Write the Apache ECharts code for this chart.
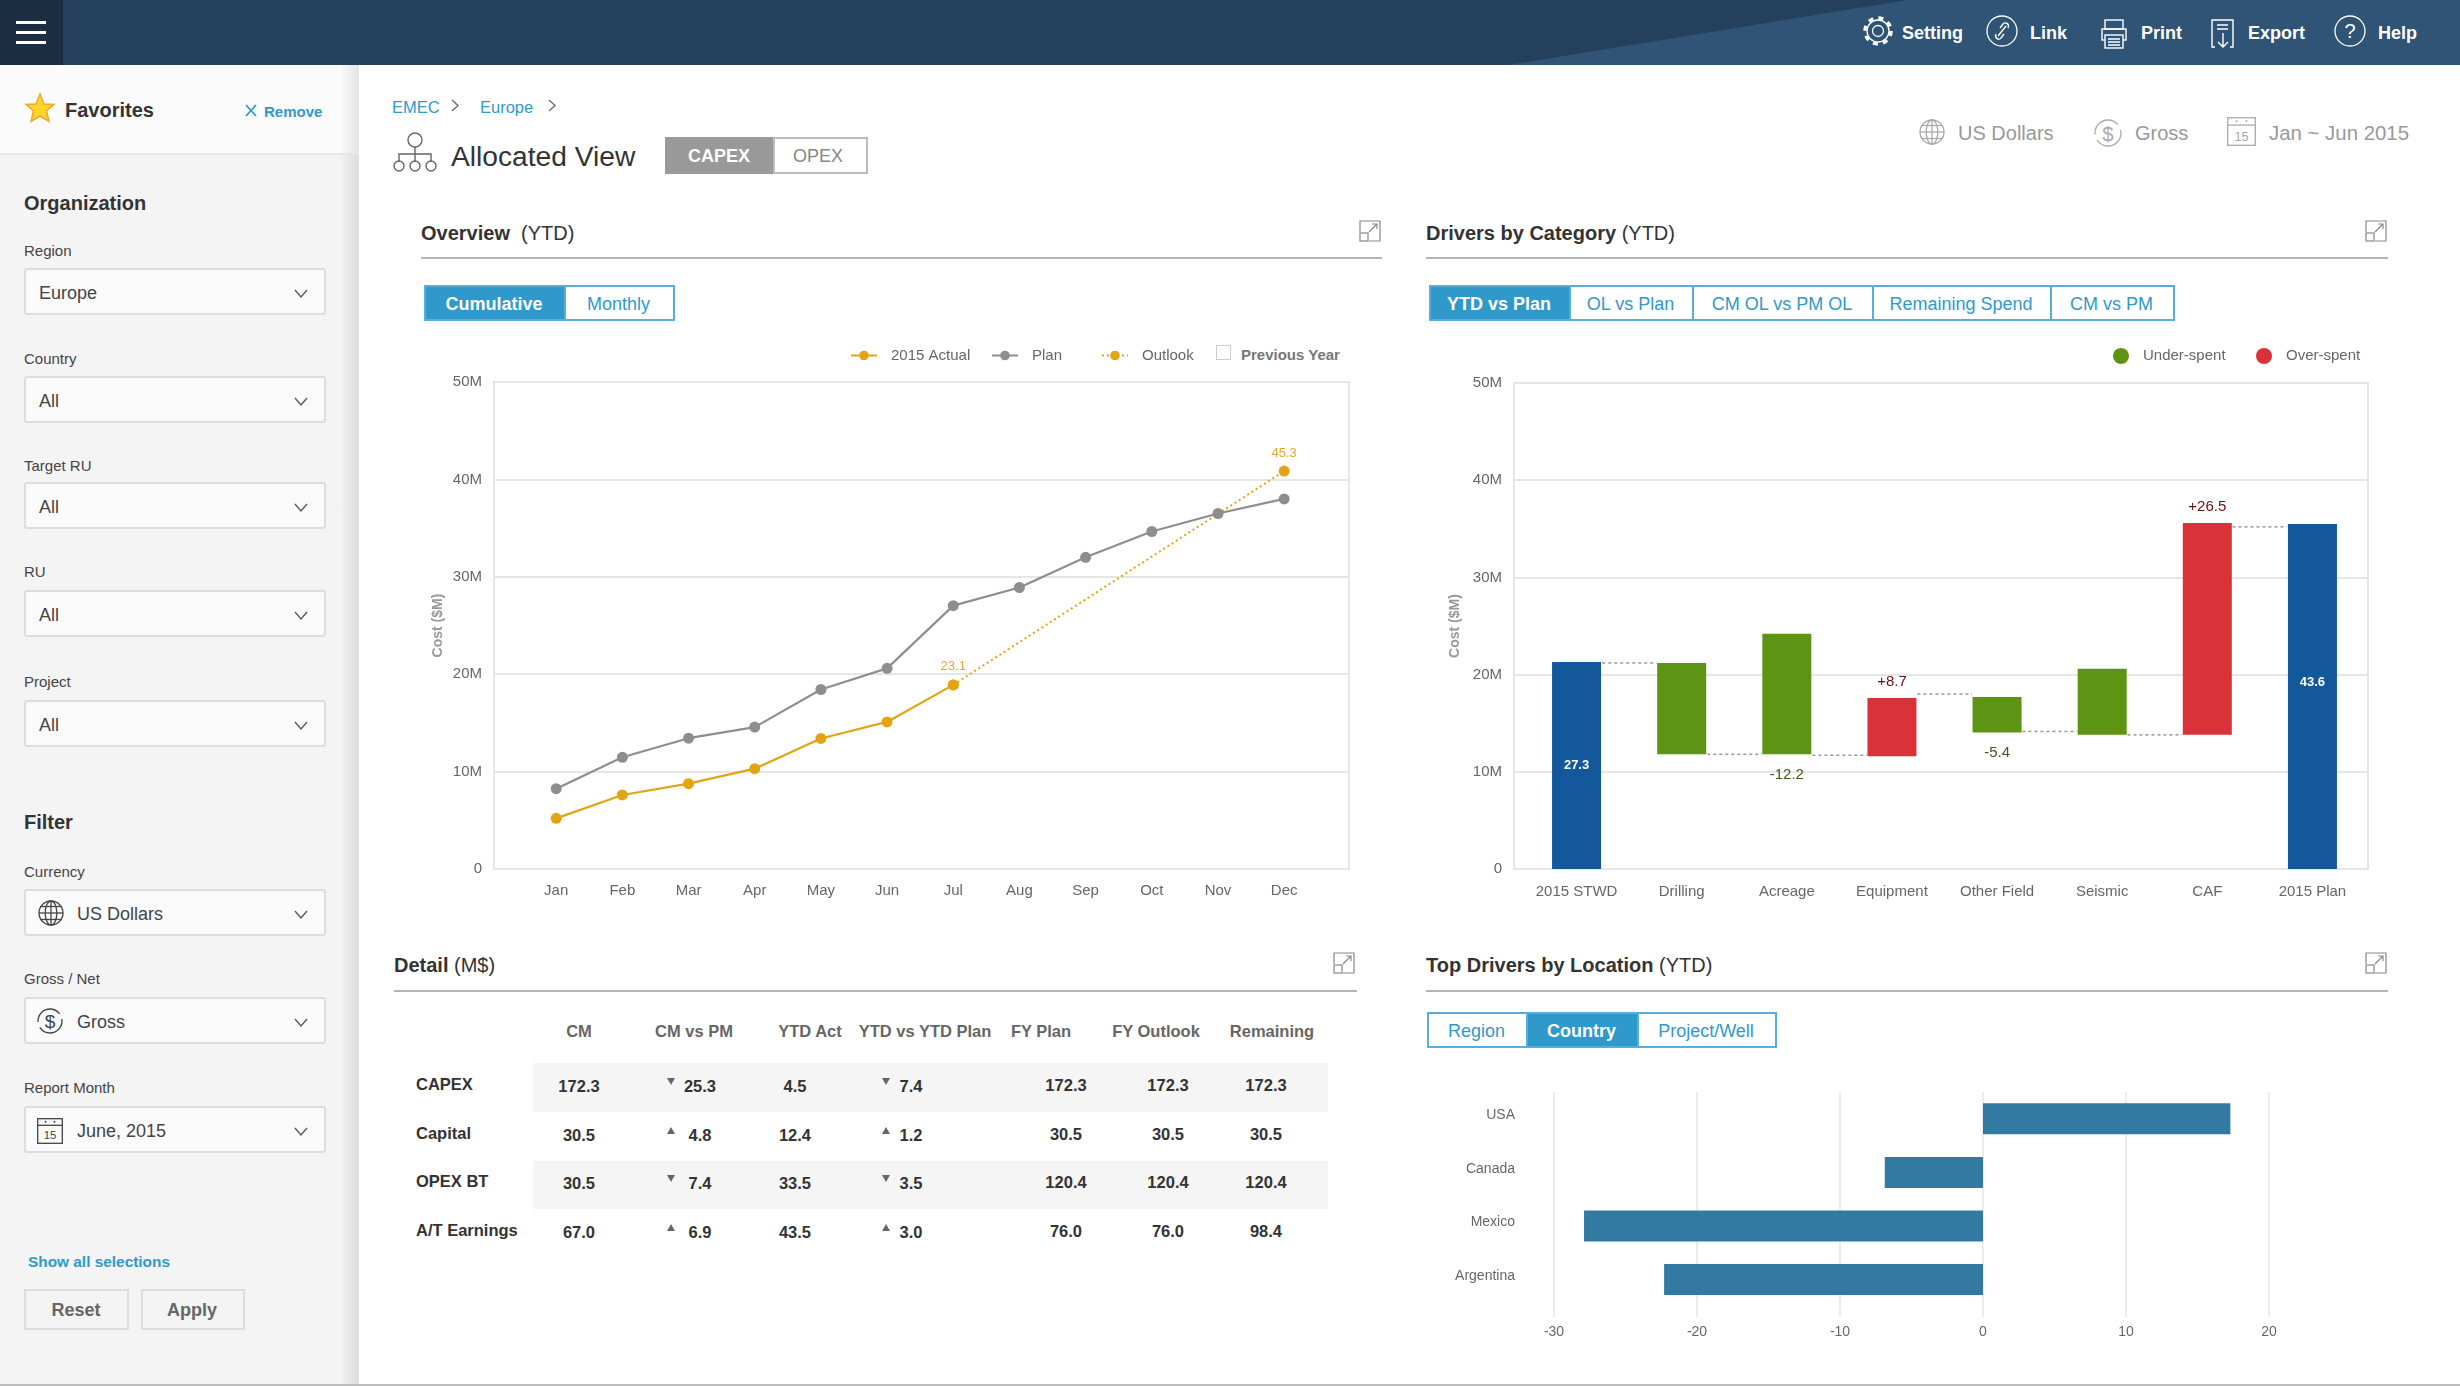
<!DOCTYPE html>
<html><head><meta charset="utf-8">
<script src="https://cdn.jsdelivr.net/npm/echarts@6/dist/echarts.min.js"></script>
<style>
html,body{margin:0;padding:0;background:#fff;width:2460px;height:1386px;overflow:hidden;font-family:"Liberation Sans",Arial,sans-serif}
#ui,#chart{position:absolute;left:0;top:0;width:2460px;height:1386px}
#chart{pointer-events:none}
.t{position:absolute;white-space:nowrap;line-height:1}
.b{position:absolute;box-sizing:border-box}
svg{position:absolute;overflow:visible}
</style></head><body>
<div id="ui"></div><div id="chart"></div>
<script>
// ---------- chart data ----------
const months=['Jan','Feb','Mar','Apr','May','Jun','Jul','Aug','Sep','Oct','Nov','Dec'];
const planValues=[8.25,11.47,13.43,14.57,18.43,20.6,27.04,28.9,32.0,34.65,36.5,38.0];
const actualValues=[5.2,7.6,8.76,10.3,13.4,15.1,18.9];
const outlookIndex=[6,11];
const outlookValues=[18.9,40.85];
const outlookLabels=['23.1','45.3'];

const driverCategories=['2015 STWD','Drilling','Acreage','Equipment','Other Field','Seismic','CAF','2015 Plan'];
const driverBase=[0,11.8,11.8,11.6,14.05,13.8,13.8,0];
const driverTotal=[21.3,null,null,null,null,null,null,35.5];
const driverUnder=[null,9.4,12.4,null,3.65,6.8,null,null];
const driverOver=[null,null,null,6.0,null,null,21.8,null];
const driverLabels=['27.3','','-12.2','+8.7','-5.4','','+26.5','43.6'];
const driverConnectors=[21.2,11.8,11.7,18.0,14.15,13.8,35.2];

const locations=['USA','Canada','Mexico','Argentina'];
const locationValues=[17.3,-6.87,-27.9,-22.3];

// ---------- table data ----------
const tableHeaders=['CM','CM vs PM','YTD Act','YTD vs YTD Plan','FY Plan','FY Outlook','Remaining'];
const tableRows=['CAPEX','Capital','OPEX BT','A/T Earnings'];
const colCM=['172.3','30.5','30.5','67.0'];
const colCMvsPM=['25.3','4.8','7.4','6.9'];
const dirCMvsPM=['down','up','down','up'];
const colYTDAct=['4.5','12.4','33.5','43.5'];
const colYTDvsPlan=['7.4','1.2','3.5','3.0'];
const dirYTDvsPlan=['down','up','down','up'];
const colFYPlan=['172.3','30.5','120.4','76.0'];
const colFYOutlook=['172.3','30.5','120.4','76.0'];
const colRemaining=['172.3','30.5','120.4','98.4'];

// ---------- page furniture ----------
const ui=document.getElementById('ui');let h='';
const BLUE='#3099cc';
function T(x,cy,s,size,color,weight,align){
  const tr=align==='c'?'translate(-50%,-50%)':align==='r'?'translate(-100%,-50%)':'translateY(-50%)';
  h+=`<div class="t" style="left:${x}px;top:${cy}px;font-size:${size}px;color:${color};font-weight:${weight||'normal'};transform:${tr}">${s}</div>`;
}
function B(x,y,w,ht,css){h+=`<div class="b" style="left:${x}px;top:${y}px;width:${w}px;height:${ht}px;${css}"></div>`;}
function S(x,y,w,ht,inner){h+=`<svg style="left:${x}px;top:${y}px" width="${w}" height="${ht}" viewBox="0 0 ${w} ${ht}">${inner}</svg>`;}
function globe(x,y,d,c){const r=d/2;S(x-r,y-r,d,d,`<g fill="none" stroke="${c}" stroke-width="1.3"><circle cx="${r}" cy="${r}" r="${r-1}"/><ellipse cx="${r}" cy="${r}" rx="${r*.45}" ry="${r-1}"/><line x1="${r}" y1="1" x2="${r}" y2="${d-1}"/><line x1="1" y1="${r}" x2="${d-1}" y2="${r}"/><line x1="${r*.2}" y1="${r*.5}" x2="${d-r*.2}" y2="${r*.5}"/><line x1="${r*.2}" y1="${r*1.5}" x2="${d-r*.2}" y2="${r*1.5}"/></g>`);}
function dollar(x,y,d,c){const r=d/2;S(x-r,y-r,d,d,`<circle cx="${r}" cy="${r}" r="${r-2}" fill="none" stroke="${c}" stroke-width="1.3" stroke-dasharray="${d*1.1} ${d*.2}"/><text x="${r}" y="${r+d*.25}" text-anchor="middle" font-size="${d*.68}" fill="${c}" font-family="Liberation Sans">$</text>`);}
function cal(x,y,d,c){S(x,y,d,d,`<rect x=".7" y=".7" width="${d-1.4}" height="${d-1.4}" fill="none" stroke="${c}" stroke-width="1.3"/><line x1="0" y1="${d*.28}" x2="${d}" y2="${d*.28}" stroke="${c}" stroke-width="1.3"/><text x="${d/2}" y="${d*.82}" text-anchor="middle" font-size="${d*.44}" fill="${c}" font-family="Liberation Sans">15</text><circle cx="${d*.33}" cy="${d*.14}" r="1" fill="${c}"/><circle cx="${d*.67}" cy="${d*.14}" r="1" fill="${c}"/>`);}
function expand(cx,cy){S(cx-11,cy-11,22,22,`<g fill="none" stroke="#888" stroke-width="1.2"><path d="M1 12V1H21V21H10"/><rect x="1" y="13" width="8" height="8"/><path d="M10 12L18 4M13 4H18V9"/></g>`);}
function chev(x,y){S(x-7,y-4,14,9,`<path d="M1 1L7 8L13 1" fill="none" stroke="#555" stroke-width="1.3"/>`);}
function btns(y,ht,list){list.forEach(([s,x0,x1,on])=>{
  B(x0,y,x1-x0+2,ht,`border:2px solid #57aedb;background:${on?BLUE:'#fff'}`);
  T((x0+x1)/2,y+ht/2+1,s,18,on?'#fff':BLUE,on?'bold':'normal','c');});}
function title(x,bold,rest,x1,yc,yl,ex){T(x,yc,`<b>${bold}</b>${rest}`,20,'#333');B(x,yl,x1-x,2,'background:#b5b5b5');expand(ex,yc-2);}

// header
B(0,0,2460,65,'background:#24405c');
S(1508,0,952,65,`<polygon points="399,0 952,0 952,65 0,65" fill="#2f5475"/>`);
B(0,0,63,65,'background:#1c2f42');
[21,31,41].forEach(y=>B(16,y,30,3,'background:#fff'));
[['Setting',1902],['Link',2030],['Print',2141],['Export',2248],['Help',2378]].forEach(([s,x])=>T(x,33,s,18,'#fff','bold'));
S(1862,15,32,32,`<g fill="none" stroke="#fff"><circle cx="16" cy="16" r="5.5" stroke-width="1.3"/><circle cx="16" cy="16" r="11" stroke-width="1.3"/><circle cx="16" cy="16" r="13" stroke-width="3.5" stroke-dasharray="5 5.2"/></g>`);
S(1986,15,32,32,`<g fill="none" stroke="#fff" stroke-width="1.3"><circle cx="16" cy="16" r="15"/><path d="M12 21L20 11M10 19c-2 4 3 7 5 4l3-4M22 13c2-4-3-7-5-4l-3 4"/></g>`);
S(2102,19,24,30,`<g fill="none" stroke="#fff" stroke-width="1.4"><rect x="3" y="1" width="18" height="9"/><rect x="0" y="10" width="24" height="11"/><rect x="3" y="16" width="18" height="13" fill="#2f5475"/><path d="M6 20H18M6 23H18M6 26H18"/></g>`);
S(2212,19,22,29,`<g fill="none" stroke="#fff" stroke-width="1.4"><path d="M3 28H0V1H21V28H18"/><path d="M5 6H16M5 10H16"/><path d="M11 14V28M6 23L11 28L16 23"/></g>`);
S(2334,15,32,32,`<circle cx="16" cy="16" r="15" fill="none" stroke="#fff" stroke-width="1.3"/><text x="16" y="23" text-anchor="middle" font-size="20" fill="#fff" font-family="Liberation Sans">?</text>`);

// sidebar
B(0,65,359,1321,'background:linear-gradient(90deg,#f4f4f4 0,#f4f4f4 340px,#dcdcdc 359px)');
B(0,65,359,89,'background:linear-gradient(90deg,#fbfbfb 0,#fbfbfb 340px,#e4e4e4 359px)');
B(0,153,359,2,'background:#e6e6e6');
S(25,93,30,30,`<polygon points="15,1 19,11 29,11.5 21.5,18 24,28.5 15,23 6,28.5 8.5,18 1,11.5 11,11" fill="#ffd42a" stroke="#f0a92e" stroke-width="1.5"/>`);
T(65,110,'Favorites',20,'#333','bold');
S(245,104,12,13,`<path d="M1 1L11 12M11 1L1 12" stroke="${BLUE}" stroke-width="1.8" fill="none"/>`);
T(264,111,'Remove',15,BLUE,'bold');
T(24,203,'Organization',20,'#333','bold');
const selects=[['Region',250,268,'Europe'],['Country',358,376,'All'],['Target RU',465,482,'All'],['RU',571,590,'All'],['Project',681,700,'All']];
function sel(lab,ly,by,val,tx){T(24,ly,lab,15,'#444');B(24,by,302,47,'background:#fafafa;border:2px solid #ddd;border-radius:3px');T(tx,by+25,val,18,'#444');chev(301,by+25);}
selects.forEach(s=>sel(s[0],s[1],s[2],s[3],39));
T(24,822,'Filter',20,'#333','bold');
sel('Currency',871,889,'US Dollars',77);globe(51,913,26,'#444');
sel('Gross / Net',978,997,'Gross',77);dollar(50,1021,28,'#444');
sel('Report Month',1087,1106,'June, 2015',77);cal(37,1118,26,'#444');
T(28,1262,'Show all selections',15.4,BLUE,'bold');
B(24,1289,105,41,'border:2px solid #ddd');T(76,1310,'Reset',18,'#666','bold','c');
B(141,1289,104,41,'border:2px solid #ddd');T(192,1310,'Apply',18,'#666','bold','c');
B(0,1384,2460,2,'background:#bdbdbd');

// breadcrumb & page title
T(392,107,'EMEC',16.5,BLUE);T(480,107,'Europe',16.5,BLUE);
[451,548].forEach(x=>S(x,99,8,13,`<path d="M1 1L7 6.5L1 12" fill="none" stroke="#666" stroke-width="1.3"/>`));
S(392,132,46,40,`<g fill="none" stroke="#666" stroke-width="1.4"><circle cx="23" cy="8" r="7"/><path d="M23 15V30M7 30V22H39V30"/><circle cx="7" cy="34" r="5"/><circle cx="23" cy="34" r="5"/><circle cx="39" cy="34" r="5"/></g>`);
T(451,156,'Allocated View',28.2,'#333');
B(665,137,109,37,'background:#999');T(719,156,'CAPEX',18,'#fff','bold','c');
B(773,137,95,37,'border:2px solid #bbb;background:#fff');T(818,156,'OPEX',18,'#888','normal','c');
globe(1932,132,26,'#aaa');T(1958,133,'US Dollars',20,'#999');
dollar(2108,133,30,'#aaa');T(2135,133,'Gross',20,'#999');
cal(2227,117,29,'#aaa');T(2269,133,'Jan ~ Jun 2015',20.4,'#999');

// panels
title(421,'Overview','&nbsp; (YTD)',1382,233,257,1370);
btns(285,36,[['Cumulative',424,564,1],['Monthly',564,673,0]]);
B(1216,345,15,15,'border:1.5px solid #ccc;background:#fff');
T(1241,354,'Previous Year',15,'#777','bold');
title(1426,'Drivers by Category',' (YTD)',2388,233,257,2376);
btns(285,36,[['YTD vs Plan',1429,1569,1],['OL vs Plan',1569,1692,0],['CM OL vs PM OL',1692,1872,0],['Remaining Spend',1872,2050,0],['CM vs PM',2050,2173,0]]);
title(394,'Detail',' (M$)',1357,965,990,1344);
title(1426,'Top Drivers by Location',' (YTD)',2388,965,990,2376);
btns(1012,36,[['Region',1427,1526,0],['Country',1526,1637,1],['Project/Well',1637,1775,0]]);

// table
B(533,1063,795,49,'background:#f5f5f5');B(533,1161,795,48,'background:#f5f5f5');
const headX=[579,694,810,925,1041,1156,1272];
tableHeaders.forEach((s,i)=>T(headX[i],1031,s,16.5,'#666','bold','c'));
const rowY=[1086,1135,1183,1232];
const cols=[[colCM,579,0],[colCMvsPM,700,0],[colYTDAct,795,0],[colYTDvsPlan,911,0],[colFYPlan,1066,-1],[colFYOutlook,1168,-1],[colRemaining,1266,-1]];
tableRows.forEach((r,i)=>{
  T(416,rowY[i]-2,r,16.5,'#333','bold');
  cols.forEach(([c,x,dy])=>T(x,rowY[i]+dy,c[i],16.5,'#333','bold','c'));
  [[dirCMvsPM,671],[dirYTDvsPlan,886]].forEach(([d,x])=>{
    const up=d[i]==='up';
    S(x-4,rowY[i]-8,8,7,`<polygon points="${up?'4,0 8,7 0,7':'0,0 8,0 4,7'}" fill="#666"/>`);});
});
ui.innerHTML=h;

// ---------- charts ----------
const LBL='#666',GRID='#e6e6e6',ORANGE='#e3a413',GREY='#8e8e8e',FONT='"Liberation Sans",Arial,sans-serif';
const yVal=(idx,gap)=>({type:'value',gridIndex:idx,min:0,max:50,interval:10,axisLine:{show:false},axisTick:{show:false},
  axisLabel:{color:LBL,fontSize:15,margin:12,formatter:v=>v?v+'M':'0'},splitLine:{lineStyle:{color:GRID,width:2}},
  name:'Cost ($M)',nameLocation:'middle',nameGap:gap,nameTextStyle:{color:'#999',fontWeight:'bold',fontSize:14}});
const pair=a=>a.map((v,i)=>[i,v]);
const legendBase={selectedMode:false,textStyle:{color:LBL,fontSize:15,padding:[0,0,0,9]}};
const bars={type:'bar',stack:'w',xAxisIndex:3,yAxisIndex:3,barWidth:49};

const chart=echarts.init(document.getElementById('chart'),null,{renderer:'canvas'});
chart.setOption({
  animation:false,backgroundColor:'transparent',
  textStyle:{fontFamily:FONT},
  grid:[
    {left:494,top:382,width:855,height:487,show:true,borderColor:GRID,borderWidth:2,backgroundColor:'transparent'},
    {left:1514,top:383,width:854,height:486,show:true,borderColor:GRID,borderWidth:2,backgroundColor:'transparent'},
    {left:1554,top:1092,width:715,height:214.4},
    {left:1524,top:383,width:841,height:486}
  ],
  legend:[
    Object.assign({},legendBase,{data:['2015 Actual'],left:845,top:343,itemWidth:26,itemHeight:12}),
    Object.assign({},legendBase,{data:['Plan'],left:986,top:343,itemWidth:26,itemHeight:12}),
    Object.assign({},legendBase,{data:['Outlook'],left:1096,top:343,itemWidth:26,itemHeight:12}),
    Object.assign({},legendBase,{data:['Under-spent'],left:2108,top:343,itemWidth:16,itemHeight:16,icon:'circle'}),
    Object.assign({},legendBase,{data:['Over-spent'],left:2251,top:343,itemWidth:16,itemHeight:16,icon:'circle'})
  ],
  xAxis:[
    {type:'value',gridIndex:0,min:-0.94,max:11.98,axisLine:{show:false},axisTick:{show:false},splitLine:{show:false},
     axisLabel:{customValues:months.map((m,i)=>i),color:LBL,fontSize:15,margin:14,formatter:v=>months[v]}},
    {type:'value',gridIndex:1,min:-0.6,max:7.53,show:false},
    {type:'value',gridIndex:2,min:-30,max:20,interval:10,axisLine:{show:false},
     axisTick:{show:true,length:10.6,lineStyle:{color:GRID,width:1.5}},
     axisLabel:{color:LBL,fontSize:14,margin:19},splitLine:{lineStyle:{color:GRID,width:1.5}}},
    {type:'category',gridIndex:3,data:driverCategories,axisLine:{show:false},axisTick:{show:false},
     axisLabel:{color:LBL,fontSize:15,margin:15,interval:0}}
  ],
  yAxis:[
    yVal(0,49),yVal(1,52),
    {type:'category',gridIndex:2,inverse:true,data:locations,axisLine:{show:false},axisTick:{show:false},
     axisLabel:{color:LBL,fontSize:14,margin:39,verticalAlign:'bottom',lineHeight:7}},
    {type:'value',gridIndex:3,min:0,max:50,interval:10,show:false}
  ],
  series:[
    {name:'2015 Actual',type:'line',xAxisIndex:0,yAxisIndex:0,data:pair(actualValues),symbol:'circle',symbolSize:11,z:4,
     lineStyle:{color:ORANGE,width:2.2},itemStyle:{color:ORANGE}},
    {name:'Plan',type:'line',xAxisIndex:0,yAxisIndex:0,data:pair(planValues),symbol:'circle',symbolSize:11,z:3,
     lineStyle:{color:GREY,width:2.2},itemStyle:{color:GREY}},
    {name:'Outlook',type:'line',xAxisIndex:0,yAxisIndex:0,data:outlookValues.map((v,i)=>[outlookIndex[i],v]),symbol:'circle',symbolSize:11,z:2,
     lineStyle:{color:ORANGE,width:2,type:[2,3]},itemStyle:{color:ORANGE},
     label:{show:true,position:'top',distance:6,color:'#e5a82a',fontSize:13,formatter:p=>outlookLabels[p.dataIndex]}},

    Object.assign({},bars,{name:'base',data:driverBase,itemStyle:{color:'transparent'},silent:true}),
    Object.assign({},bars,{name:'Total',data:driverTotal,itemStyle:{color:'#12589a'},
     label:{show:true,position:'inside',color:'#fff',fontSize:13,fontWeight:'bold',formatter:p=>driverLabels[p.dataIndex]},
     labelLayout:p=>p.dataIndex===7?{dy:-14}:{}}),
    Object.assign({},bars,{name:'Under-spent',data:driverUnder,itemStyle:{color:'#5e9413'},
     label:{show:true,position:'bottom',distance:13,color:'#3d5a1c',fontSize:15,formatter:p=>driverLabels[p.dataIndex]}}),
    Object.assign({},bars,{name:'Over-spent',data:driverOver,itemStyle:{color:'#d93339'},
     label:{show:true,position:'top',distance:9,color:'#6b1010',fontSize:15,formatter:p=>driverLabels[p.dataIndex]}}),
    {name:'connectors',type:'custom',xAxisIndex:1,yAxisIndex:1,data:pair(driverConnectors),encode:{x:0,y:1},silent:true,
     renderItem:(params,api)=>{
       const a=api.coord([api.value(0)+0.24,api.value(1)]),b=api.coord([api.value(0)+0.76,api.value(1)]);
       return {type:'line',shape:{x1:a[0],y1:a[1],x2:b[0],y2:b[1]},style:{stroke:'#999',lineWidth:1.5,lineDash:[3,3]}};
     }},

    {name:'Location',type:'bar',xAxisIndex:2,yAxisIndex:2,data:locationValues,barWidth:31,itemStyle:{color:'#337aa3'}}
  ]
});
</script></body></html>
